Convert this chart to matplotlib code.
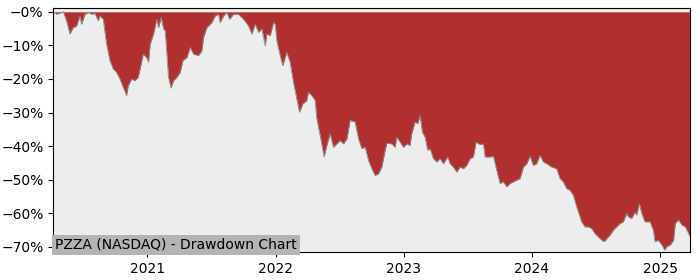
import numpy as np
import pandas as pd
import matplotlib
matplotlib.use("Agg")
import matplotlib.pyplot as plt
import matplotlib.dates as mdates
from matplotlib.ticker import PercentFormatter

# Drawdown: time as decimal year, drawdown in percent
years = [
    2020.267, 2020.293, 2020.345, 2020.371, 2020.397, 2020.423, 2020.449, 2020.475,
    2020.488, 2020.514, 2020.540, 2020.566, 2020.592, 2020.618, 2020.631, 2020.657,
    2020.683, 2020.709, 2020.735, 2020.761, 2020.787, 2020.813, 2020.839, 2020.852,
    2020.878, 2020.904, 2020.930, 2020.956, 2020.969, 2020.995, 2021.008, 2021.021,
    2021.047, 2021.073, 2021.086, 2021.107, 2021.125, 2021.138, 2021.164, 2021.183,
    2021.203, 2021.229, 2021.255, 2021.276, 2021.307, 2021.333, 2021.359, 2021.398,
    2021.424, 2021.437, 2021.463, 2021.502, 2021.528, 2021.554, 2021.567, 2021.593,
    2021.619, 2021.640, 2021.671, 2021.710, 2021.749, 2021.788, 2021.814, 2021.840,
    2021.866, 2021.892, 2021.918, 2021.931, 2021.957, 2021.983, 2021.996, 2022.009,
    2022.035, 2022.056, 2022.087, 2022.113, 2022.139, 2022.165, 2022.186, 2022.212,
    2022.243, 2022.256, 2022.282, 2022.308, 2022.321, 2022.347, 2022.378, 2022.399,
    2022.425, 2022.451, 2022.477, 2022.503, 2022.529, 2022.556, 2022.581, 2022.620,
    2022.646, 2022.672, 2022.698, 2022.724, 2022.750, 2022.776, 2022.802, 2022.828,
    2022.854, 2022.867, 2022.906, 2022.932, 2022.945, 2022.971, 2022.997, 2023.023,
    2023.049, 2023.062, 2023.088, 2023.109, 2023.127, 2023.145, 2023.166, 2023.187,
    2023.205, 2023.231, 2023.257, 2023.283, 2023.309, 2023.343, 2023.361, 2023.387,
    2023.413, 2023.439, 2023.465, 2023.491, 2023.517, 2023.543, 2023.564, 2023.595,
    2023.621, 2023.634, 2023.673, 2023.699, 2023.725, 2023.751, 2023.777, 2023.803,
    2023.829, 2023.855, 2023.881, 2023.907, 2023.933, 2023.959, 2023.985, 2024.011,
    2024.037, 2024.063, 2024.089, 2024.115, 2024.154, 2024.193, 2024.219, 2024.245,
    2024.271, 2024.297, 2024.323, 2024.349, 2024.375, 2024.388, 2024.414, 2024.440,
    2024.466, 2024.492, 2024.518, 2024.545, 2024.565, 2024.584, 2024.609, 2024.635,
    2024.661, 2024.687, 2024.713, 2024.739, 2024.752, 2024.778, 2024.804, 2024.817,
    2024.838, 2024.856, 2024.882, 2024.921, 2024.947, 2024.960, 2024.986, 2025.012,
    2025.033, 2025.051, 2025.077, 2025.103, 2025.116, 2025.142, 2025.169, 2025.194,
    2025.220, 2025.233,
]
drawdown_pct = [
    0.0, -0.7, 0.0, -2.7, -6.6, -4.7, -4.2, -1.2,
    -3.7, -0.7, -0.2, -0.7, -0.5, -2.7, -1.2, -2.2,
    -9.6, -14.5, -17.0, -18.0, -20.0, -22.5, -24.9, -22.0,
    -20.0, -20.5, -19.5, -15.0, -12.6, -13.6, -15.0, -9.6,
    -6.6, -2.2, -4.7, -1.7, -5.1, -5.6, -19.5, -22.7,
    -20.5, -19.5, -18.0, -14.5, -13.6, -10.6, -12.6, -13.0,
    -11.6, -7.6, -4.7, -3.2, -1.2, -0.7, -3.2, -1.2,
    -0.2, -2.2, -0.7, -0.7, -2.2, -4.2, -6.6, -3.7,
    -6.1, -5.1, -10.1, -6.6, -7.1, -3.2, -3.7, -8.6,
    -13.0, -16.0, -12.0, -15.0, -21.0, -25.9, -29.9, -27.4,
    -26.4, -23.9, -24.9, -26.4, -31.8, -36.8, -43.2, -39.8,
    -36.3, -40.3, -39.3, -38.3, -39.3, -37.8, -32.3, -32.8,
    -37.8, -40.7, -40.3, -44.2, -46.7, -48.7, -48.2, -46.2,
    -41.2, -39.1, -39.3, -40.3, -37.3, -38.8, -40.3, -39.3,
    -39.8, -36.3, -32.8, -33.3, -30.9, -35.8, -37.3, -41.2,
    -40.7, -43.7, -44.7, -43.7, -45.2, -43.2, -45.2, -46.2,
    -47.7, -46.2, -46.7, -45.7, -43.7, -43.2, -38.8, -39.5,
    -39.3, -43.2, -43.2, -43.0, -47.2, -51.1, -50.6, -52.1,
    -51.1, -50.6, -50.1, -49.6, -46.2, -45.2, -43.0, -45.7,
    -45.2, -42.7, -44.7, -45.2, -46.2, -46.7, -49.6, -50.6,
    -52.6, -53.1, -54.6, -58.0, -61.0, -62.5, -64.0, -64.0,
    -64.5, -66.0, -67.0, -68.0, -68.4, -67.5, -66.5, -65.0,
    -64.0, -63.0, -62.5, -60.0, -61.0, -61.5, -59.6, -60.5,
    -57.1, -60.0, -62.5, -62.5, -65.0, -68.4, -68.0, -69.4,
    -70.9, -69.9, -69.4, -68.0, -63.0, -62.0, -63.5, -64.0,
    -66.0, -67.0,
]
title = "PZZA (NASDAQ) - Drawdown Chart"

# decimal year -> timestamp
yrs = np.array(years)
whole = np.floor(yrs).astype(int)
dates = [pd.Timestamp(year=int(w), month=1, day=1) + pd.Timedelta(days=float((f - w) * 365.25))
         for w, f in zip(whole, yrs)]
dates = pd.to_datetime(dates)
dd = np.array(drawdown_pct) / 100.0

fig = plt.figure(figsize=(7, 2.8), dpi=100)
ax = fig.add_axes([0.076, 0.1, 0.91, 0.871])
ax.set_facecolor("#ededed")

ax.fill_between(dates, dd, 0, color="#b03030", linewidth=0)
ax.plot(dates, dd, color="#8a8a8a", linewidth=0.6)

ax.set_xlim(dates[0], dates[-1])
ax.set_ylim(-0.715, 0.011)
ax.yaxis.set_major_formatter(PercentFormatter(1.0, decimals=0))
ax.set_yticks(np.arange(-0.7, 0.01, 0.1))
ax.xaxis.set_major_locator(mdates.YearLocator())
ax.xaxis.set_major_formatter(mdates.DateFormatter("%Y"))

ax.text(0.003, 0.0, title, transform=ax.transAxes, fontsize=10,
        ha="left", va="bottom",
        bbox=dict(facecolor="#b4b4b4", edgecolor="none", pad=2))

fig.savefig("out.png", dpi=100)
